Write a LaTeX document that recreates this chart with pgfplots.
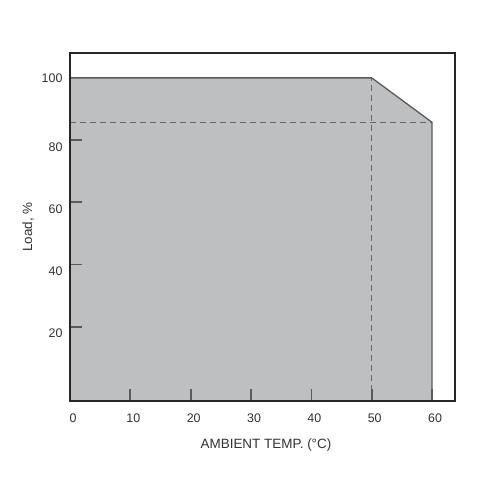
\documentclass[border=0pt]{standalone}
\usepackage{fontspec}
\setmainfont{Liberation Sans}
\usepackage{pgfplots}
\pgfplotsset{compat=1.18}
\definecolor{areagray}{HTML}{BDBFC1}
\definecolor{edgegray}{HTML}{5A5A5A}
\definecolor{dashgray}{HTML}{686868}
\definecolor{txtgray}{HTML}{333333}
\begin{document}
\begin{tikzpicture}[x=1bp,y=1bp]
\path[use as bounding box] (0,0) rectangle (499,499);
\begin{axis}[
  at={(70bp,98bp)}, anchor=south west,
  width=385bp, height=348bp, scale only axis,
  xmin=0, xmax=63.8, ymin=-3.9, ymax=108,
  axis on top,
  axis line style={draw=black!85, line width=2bp},
  xtick={0,10,20,30,40,50,60},
  ytick={20,40,60,80},
  extra y ticks={100},
  extra y tick style={major tick length=0pt, yticklabel style={yshift=7bp}},
  xtick pos=bottom, ytick pos=left, tick align=inside,
  major tick length=12bp,
  tick style={draw=edgegray, line width=1.7bp},
  /pgf/number format/assume math mode=true,
  ticklabel style={font=\fontsize{12.5}{14}\selectfont, text=txtgray},
  xticklabel style={xshift=3bp, yshift=-9bp},
  yticklabel style={yshift=-7bp, xshift=-4bp},
  xlabel={AMBIENT TEMP. (°C)},
  ylabel={Load, \%},
  label style={font=\fontsize{13.5}{15}\selectfont, text=txtgray},
  xlabel style={at={(axis description cs:0.509,-0.126)}, anchor=center},
  ylabel style={at={(axis description cs:-0.109,0.5)}, anchor=center},
  clip=true,
]
\addplot[fill=areagray, draw=none] coordinates {(0,-3.9) (0,100) (50,100) (60,85.7) (60,-3.9)} -- cycle;
\addplot[dashgray, line width=1.4bp, dash pattern=on 6bp off 4bp] coordinates {(50,-3.9) (50,100)};
\addplot[dashgray, line width=1.4bp, dash pattern=on 6bp off 4bp] coordinates {(0,85.7) (60,85.7)};
\addplot[edgegray, line width=1.3bp] coordinates {(0,100) (50,100) (60,85.7) (60,-3.9)};
\end{axis}
\end{tikzpicture}
\end{document}
